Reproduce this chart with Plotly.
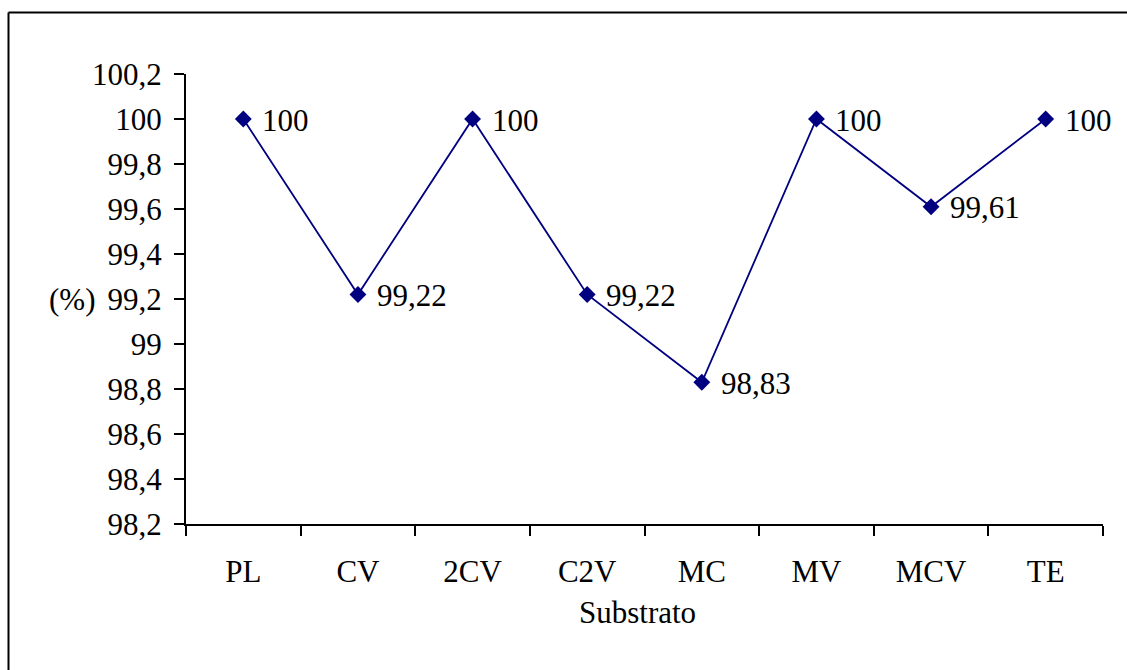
import plotly.graph_objects as go

# Substrate categories and measured percentages
substratos = ["PL", "CV", "2CV", "C2V", "MC", "MV", "MCV", "TE"]
valores = [100, 99.22, 100, 99.22, 98.83, 100, 99.61, 100]
rotulos = ["100", "99,22", "100", "99,22", "98,83", "100", "99,61", "100"]

y_ticks = [98.2, 98.4, 98.6, 98.8, 99.0, 99.2, 99.4, 99.6, 99.8, 100.0, 100.2]
y_ticktext = ["98,2", "98,4", "98,6", "98,8", "99", "99,2", "99,4", "99,6", "99,8", "100", "100,2"]

W, H = 1127, 670
L, R, T, B = 186, 24, 74, 146
pw, ph = W - L - R, H - T - B

def px_x(px):
    return (px - L) / pw

def px_y(py):
    return (H - B - py) / ph

FONT = "Liberation Serif"
FS = 31
NAVY = "#000080"

fig = go.Figure()
fig.add_trace(go.Scatter(
    x=substratos,
    y=valores,
    mode="lines+markers",
    line=dict(color=NAVY, width=1.8),
    marker=dict(symbol="diamond", size=13, color=NAVY),
    cliponaxis=False,
    showlegend=False,
))

# Value labels to the right of each point
for cat, val, lab in zip(substratos, valores, rotulos):
    fig.add_annotation(
        x=cat, y=val, text=lab, xref="x", yref="y",
        xanchor="left", yanchor="middle", xshift=17, yshift=-1,
        showarrow=False, font=dict(family=FONT, size=FS, color="black"),
    )

fig.update_xaxes(
    type="category",
    range=[-0.5, 7.5],
    tickson="boundaries",
    ticks="outside",
    ticklen=10,
    tickwidth=2,
    tickcolor="black",
    showline=True,
    linecolor="black",
    linewidth=2,
    showgrid=False,
    zeroline=False,
    ticklabelstandoff=19,
    tickfont=dict(family=FONT, size=FS, color="black"),
)
fig.update_yaxes(
    range=[98.2, 100.2],
    tickvals=y_ticks,
    ticktext=y_ticktext,
    ticks="outside",
    ticklen=10,
    tickwidth=2,
    tickcolor="black",
    showline=True,
    linecolor="black",
    linewidth=2,
    showgrid=False,
    zeroline=False,
    ticklabelstandoff=6,
    tickfont=dict(family=FONT, size=FS, color="black"),
)

# Axis captions
fig.add_annotation(
    text="Substrato", xref="paper", yref="paper",
    x=px_x(637), y=px_y(612), xanchor="center", yanchor="middle",
    showarrow=False, font=dict(family=FONT, size=FS, color="black"),
)
fig.add_annotation(
    text="(%)", xref="paper", yref="y",
    x=px_x(97), y=99.2, xanchor="right", yanchor="middle",
    showarrow=False, font=dict(family=FONT, size=FS, color="black"),
)

# Frame around the chart (top and left edges)
fig.add_shape(type="line", xref="paper", yref="paper",
              x0=px_x(8.5), x1=px_x(1130), y0=px_y(12.5), y1=px_y(12.5),
              line=dict(color="black", width=2))
fig.add_shape(type="line", xref="paper", yref="paper",
              x0=px_x(8.5), x1=px_x(8.5), y0=px_y(12.5), y1=px_y(680),
              line=dict(color="black", width=2))

fig.update_layout(
    width=W, height=H,
    margin=dict(l=L, r=R, t=T, b=B),
    plot_bgcolor="white",
    paper_bgcolor="white",
    font=dict(family=FONT, size=FS, color="black"),
)

fig.write_html("out.html")
